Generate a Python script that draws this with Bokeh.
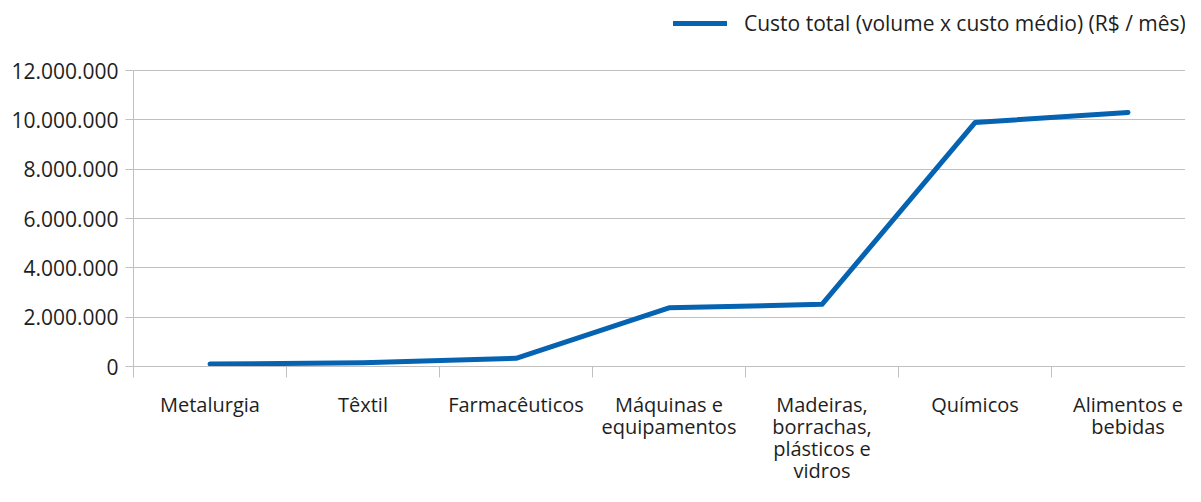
from bokeh.plotting import figure
from bokeh.models import Range1d, FixedTicker, Legend, LegendItem
from bokeh.embed import file_html
from bokeh.resources import INLINE

categories = [
    "Metalurgia",
    "Têxtil",
    "Farmacêuticos",
    "Máquinas e\nequipamentos",
    "Madeiras,\nborrachas,\nplásticos e\nvidros",
    "Químicos",
    "Alimentos e\nbebidas",
]
custo_total = [100000, 150000, 330000, 2380000, 2520000, 9890000, 10300000]
series_name = "Custo total (volume x custo médio) (R$ / mês)"
y_ticks = [0, 2000000, 4000000, 6000000, 8000000, 10000000, 12000000]
y_tick_labels = ["0", "2.000.000", "4.000.000", "6.000.000", "8.000.000", "10.000.000", "12.000.000"]

FONT = "Open Sans"
TXT = "#1e1e1e"
GRID = "#c0c0c0"
LINE = "#0563b1"

centers = [i + 0.5 for i in range(len(categories))]
bounds = list(range(len(categories) + 1))

# frame: top at 5px, bottom at 366px; 12.000.000 sits at 70px
y_top = 12000000 * 361 / 296.0

p = figure(
    width=1185, height=486,
    x_range=Range1d(0, 1052 / 153.0),
    y_range=Range1d(0, y_top),
    output_backend="svg", toolbar_location=None,
    min_border_left=133, min_border_right=0, min_border_top=5, min_border_bottom=0,
)
p.outline_line_color = None
p.background_fill_color = "white"
p.border_fill_color = "white"

r = p.line(centers, custo_total, line_color=LINE, line_width=5, line_cap="round", line_join="round")

# x axis
xa = p.xaxis[0]
xa.ticker = FixedTicker(ticks=centers, minor_ticks=bounds)
xa.major_label_overrides = {c: lab for c, lab in zip(centers, categories)}
xa.major_tick_line_color = None
xa.major_tick_out = 11
xa.major_tick_in = 0
xa.minor_tick_out = 11
xa.minor_tick_in = 0
xa.minor_tick_line_color = GRID
xa.axis_line_color = GRID
xa.major_label_standoff = 13
xa.major_label_text_font = FONT
xa.major_label_text_font_size = "20px"
xa.major_label_text_color = TXT
xa.major_label_text_line_height = 0.82
xa.major_label_orientation = "horizontal"

# y axis
ya = p.yaxis[0]
ya.ticker = FixedTicker(ticks=y_ticks)
ya.bounds = (0, 12000000)
ya.major_label_overrides = {t: lab for t, lab in zip(y_ticks, y_tick_labels)}
ya.major_tick_out = 8
ya.major_tick_in = 0
ya.minor_tick_line_color = None
ya.major_tick_line_color = GRID
ya.axis_line_color = GRID
ya.major_label_standoff = 7
ya.major_label_text_font = FONT
ya.major_label_text_font_size = "21px"
ya.major_label_text_color = TXT

p.xgrid.grid_line_color = None
p.ygrid.ticker = FixedTicker(ticks=y_ticks)
p.ygrid.grid_line_color = GRID
p.ygrid.grid_line_width = 1

legend = Legend(
    items=[LegendItem(label=series_name, renderers=[r])],
    location=(540, 329),
    orientation="horizontal",
    border_line_color=None,
    background_fill_alpha=0,
    label_text_font=FONT,
    label_text_font_size="21px",
    label_text_color=TXT,
    glyph_width=54,
    glyph_height=20,
    label_standoff=17,
    padding=0,
    margin=0,
    spacing=0,
)
p.add_layout(legend)

open("out.html", "w").write(file_html(p, INLINE))
